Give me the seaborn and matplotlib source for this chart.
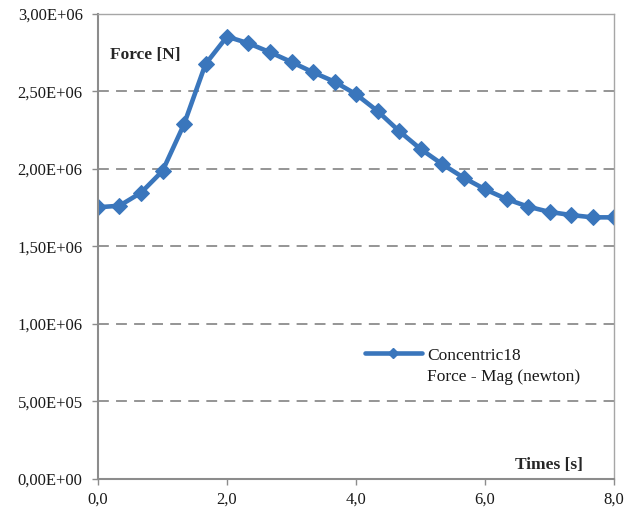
import numpy as np
import pandas as pd
import matplotlib
matplotlib.use("Agg")
import matplotlib.pyplot as plt
import seaborn as sns
from matplotlib.ticker import FuncFormatter, MultipleLocator
from matplotlib.lines import Line2D

# Data
time_s = [0.0, 0.333, 0.667, 1.0, 1.333, 1.667, 2.0, 2.333, 2.667, 3.0, 3.333, 3.667,
          4.0, 4.333, 4.667, 5.0, 5.333, 5.667, 6.0, 6.333, 6.667, 7.0, 7.333, 7.667, 8.0]
force_n = [1.753e6, 1.763e6, 1.847e6, 1.987e6, 2.288e6, 2.677e6, 2.854e6, 2.811e6,
           2.753e6, 2.690e6, 2.624e6, 2.563e6, 2.482e6, 2.374e6, 2.245e6, 2.129e6,
           2.032e6, 1.944e6, 1.869e6, 1.806e6, 1.757e6, 1.723e6, 1.703e6, 1.688e6, 1.688e6]
series_name = "Concentric18"
series_sub = "Force - Mag (newton)"
y_label = "Force [N]"
x_label = "Times [s]"

df = pd.DataFrame({"t": time_s, "F": force_n, "s": series_name})

sns.set_style("white")
plt.rcParams["font.family"] = ["Liberation Serif", "DejaVu Serif"]

fig = plt.figure(figsize=(6.43, 5.16), dpi=100)
ax = fig.add_axes([0.1524, 0.0717, 0.8026, 0.9012])

color = "#3A76BC"
sns.lineplot(data=df, x="t", y="F", hue="s", palette=[color], ax=ax,
             marker="D", markersize=8.5, markeredgecolor=color, linewidth=3.3,
             legend=False)

ax.set_xlim(0, 8)
ax.set_ylim(0, 3.0e6)
ax.xaxis.set_major_locator(MultipleLocator(2))
ax.yaxis.set_major_locator(MultipleLocator(5e5))
ax.xaxis.set_major_formatter(FuncFormatter(lambda v, p: f"{v:.1f}".replace(".", ",")))

def yfmt(v, p):
    s = f"{v:.2E}"
    mant, exp = s.split("E")
    return mant.replace(".", ",") + "E" + exp
ax.yaxis.set_major_formatter(FuncFormatter(yfmt))

ax.set_xlabel("")
ax.set_ylabel("")
ax.grid(False)
for yv in np.arange(5e5, 3.0e6, 5e5):
    ax.axhline(yv, color="#8C8C8C", linewidth=1.3, dashes=(6, 4), zorder=0)

for sp in ax.spines.values():
    sp.set_color("#A6A6A6")
    sp.set_linewidth(1.0)
ax.spines["left"].set_color("#8C8C8C")
ax.spines["bottom"].set_color("#8C8C8C")
ax.spines["left"].set_linewidth(1.5)
ax.spines["bottom"].set_linewidth(1.5)

ax.tick_params(axis="both", direction="out", length=4, width=1, color="#8C8C8C",
               labelsize=12, labelcolor="#1a1a1a")
ax.tick_params(axis="x", pad=5, bottom=True)
ax.tick_params(axis="y", pad=7, left=True)

ax.text(0.023, 0.912, y_label, transform=ax.transAxes, fontsize=12.5, fontweight="bold",
        ha="left", va="center")
ax.text(0.94, 0.03, x_label, transform=ax.transAxes, fontsize=12.5, fontweight="bold",
        ha="right", va="center")

handle = Line2D([], [], color=color, linewidth=3.3, marker="D", markersize=5)
blank = Line2D([], [], color="none")
leg = ax.legend([handle, blank], [series_name, series_sub], loc="upper left",
                bbox_to_anchor=(0.517, 0.283), frameon=False, fontsize=12.5,
                handlelength=3.3, handletextpad=0.3, borderaxespad=0, borderpad=0,
                labelspacing=0.3)
for t in leg.get_texts():
    t.set_color("#1a1a1a")

fig.savefig("out.png", dpi=100)
